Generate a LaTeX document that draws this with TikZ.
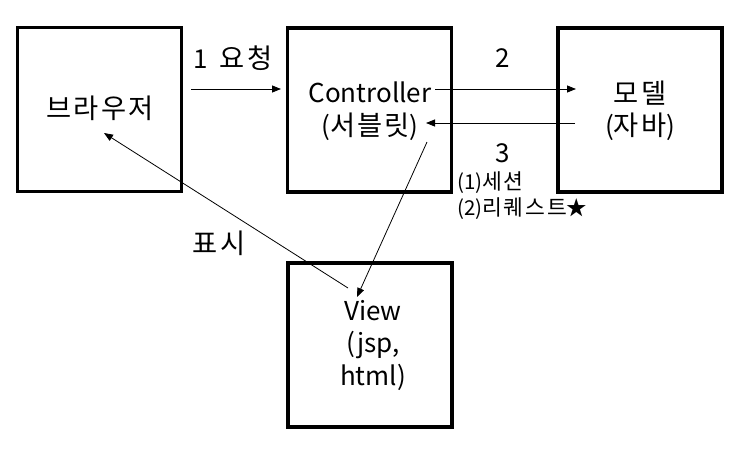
\documentclass[tikz,border=0pt]{standalone}
\usepackage{fontspec}
\setmainfont{Noto Sans CJK KR}
\newfontfamily\kr[Scale=1.05,LetterSpace=8]{Noto Sans CJK KR}
\usetikzlibrary{arrows.meta}
\begin{document}
\begin{tikzpicture}[x=1pt,y=-1pt,
  box/.style={draw=black,line width=3.5pt,minimum width=164pt,minimum height=164pt,inner sep=0pt},
  lbl/.style={font=\fontsize{26}{32.5}\selectfont,align=center,inner sep=0pt},
  small/.style={font=\fontsize{20.5}{26}\selectfont,inner sep=0pt,anchor=west},
  conn/.style={line width=0.8pt,-{Triangle[length=9pt,width=7pt]}}]
\useasboundingbox (0,0) rectangle (740,450);
\fill[white] (0,0) rectangle (740,450);
\node[box] (browser) at (99.5,109.5) {};
\node[box] (ctrl) at (369.5,110) {};
\node[box] (model) at (640,110) {};
\node[box] (view) at (370,345) {};
\node[lbl] (tb) at (100,108) {{\kr 브라우저}};
\node[lbl] (tc) at (370,111) {Controller\\({\kr 서블릿})};
\node[lbl] (tm) at (640,111) {{\kr 모델}\\({\kr 자바})};
\node[lbl] (tv) at (373,345) {View\\(jsp,\\html)};
\node[lbl] (l1) at (233,58) {1\ \ {\kr 요청}};
\node[lbl] (l2) at (503,58) {2};
\node[lbl] (l3) at (503,153) {3};
\node[lbl] (l4) at (219,243) {{\kr 표시}};
\node[small] (s1) at (457,183) {(1){\kr 세션}};
\node[small] (s2) at (457,209) {(2){\kr 리퀘스트}★};
\coordinate (a1s) at (191,89); \coordinate (a1e) at (281,89);
\coordinate (a2s) at (435,89); \coordinate (a2e) at (576,89);
\coordinate (a3s) at (575,123); \coordinate (a3e) at (426,123);
\coordinate (a4s) at (427,142); \coordinate (a4e) at (357,297);
\coordinate (a5s) at (348,288); \coordinate (a5e) at (104,133);
\draw[conn] (a1s) -- (a1e);
\draw[conn] (a2s) -- (a2e);
\draw[conn] (a3s) -- (a3e);
\draw[conn] (a4s) -- (a4e);
\draw[conn] (a5s) -- (a5e);
\end{tikzpicture}
\end{document}
